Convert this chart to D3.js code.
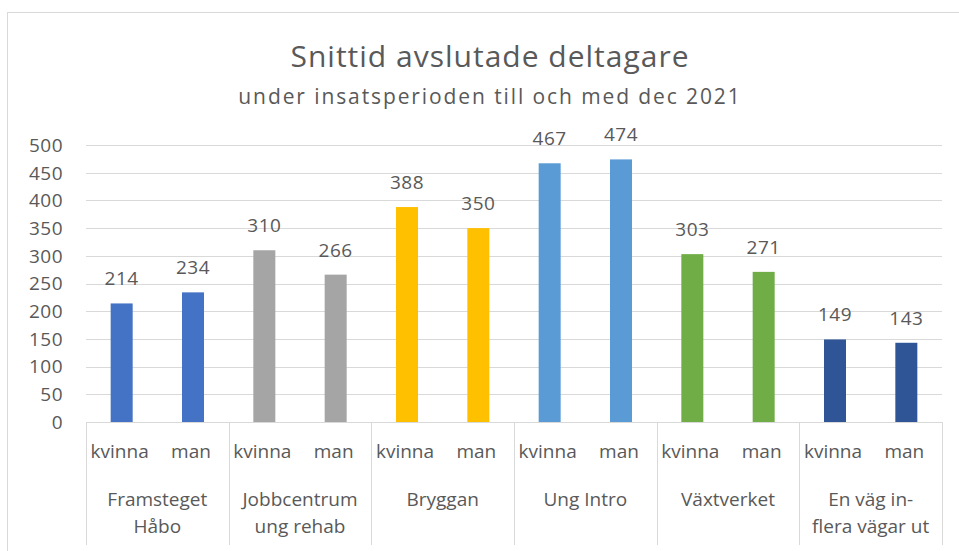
<!DOCTYPE html>
<html lang="sv">
<head>
    <meta charset="UTF-8">
    <title>Snittid avslutade deltagare</title>
    <script src="https://d3js.org/d3.v7.min.js"></script>
    <style>
        body {
            margin: 0;
            background: #fff;
            overflow: hidden;
        }
        svg {
            display: block;
            font-family: "Open Sans", "Noto Sans", sans-serif;
        }
        .grid line {
            stroke: #d9d9d9;
            stroke-width: 1px;
        }
        .tick-label, .cat-label, .bar-label {
            fill: #595959;
        }
    </style>
</head>
<body>
    <svg width="959" height="551"></svg>

    <script>
        // data
        const groups = ["Framsteget Håbo", "Jobbcentrum ung rehab", "Bryggan", "Ung Intro", "Växtverket", "En väg in-flera vägar ut"];
        const groupLines = [["Framsteget", "Håbo"], ["Jobbcentrum", "ung rehab"], ["Bryggan"], ["Ung Intro"], ["Växtverket"], ["En väg in-", "flera vägar ut"]];
        const genders = ["kvinna", "man"];
        const kvinna = [214, 310, 388, 467, 303, 149];
        const man = [234, 266, 350, 474, 271, 143];
        const groupColors = ["#4472c4", "#a5a5a5", "#ffc000", "#5b9bd5", "#70ad47", "#2f5597"];
        const yTicks = [0, 50, 100, 150, 200, 250, 300, 350, 400, 450, 500];

        const svg = d3.select("svg");

        // chart border (Excel chart area)
        svg.append("rect")
            .attr("x", 7.5).attr("y", 12.5)
            .attr("width", 1000).attr("height", 600)
            .attr("fill", "none")
            .attr("stroke", "#d9d9d9");

        // titles
        svg.append("text")
            .attr("x", 490).attr("y", 67)
            .attr("text-anchor", "middle")
            .attr("font-size", 30)
            .attr("letter-spacing", 1)
            .attr("fill", "#595959")
            .text("Snittid avslutade deltagare");

        svg.append("text")
            .attr("x", 490).attr("y", 104)
            .attr("text-anchor", "middle")
            .attr("font-size", 21)
            .attr("letter-spacing", 1.9)
            .attr("fill", "#595959")
            .text("under insatsperioden till och med dec 2021");

        const plotL = 86, plotR = 942, plotT = 145, plotB = 422;

        const y = d3.scaleLinear().domain([0, 500]).range([plotB, plotT]);
        const x0 = d3.scaleBand().domain(groups).range([plotL, plotR]);
        const x1 = d3.scaleBand().domain(genders).range([0, x0.bandwidth()]);
        const barW = 22;

        // gridlines
        svg.append("g").attr("class", "grid")
            .selectAll("line")
            .data(yTicks)
            .join("line")
            .attr("x1", plotL).attr("x2", plotR)
            .attr("y1", d => Math.round(y(d)) + 0.5)
            .attr("y2", d => Math.round(y(d)) + 0.5);

        // y tick labels
        svg.append("g")
            .selectAll("text")
            .data(yTicks)
            .join("text")
            .attr("class", "tick-label")
            .attr("x", 63)
            .attr("y", d => y(d))
            .attr("dy", "0.36em")
            .attr("text-anchor", "end")
            .attr("font-size", 19)
            .attr("letter-spacing", 0.5)
            .text(d => d);

        const rows = [];
        groups.forEach((g, i) => {
            rows.push({ group: g, gender: "kvinna", value: kvinna[i], color: groupColors[i] });
            rows.push({ group: g, gender: "man", value: man[i], color: groupColors[i] });
        });

        const cx = d => x0(d.group) + x1(d.gender) + x1.bandwidth() / 2;

        // bars
        svg.append("g")
            .selectAll("rect")
            .data(rows)
            .join("rect")
            .attr("x", d => cx(d) - barW / 2)
            .attr("width", barW)
            .attr("y", d => y(d.value))
            .attr("height", d => y(0) - y(d.value))
            .attr("fill", d => d.color);

        // value labels
        svg.append("g")
            .selectAll("text")
            .data(rows)
            .join("text")
            .attr("class", "bar-label")
            .attr("x", cx)
            .attr("y", d => y(d.value) - 18)
            .attr("text-anchor", "middle")
            .attr("font-size", 19)
            .attr("letter-spacing", 0.5)
            .text(d => d.value);

        // category axis: baseline + separators
        const axis = svg.append("g").attr("stroke", "#d9d9d9");
        axis.append("line")
            .attr("x1", plotL).attr("x2", plotR)
            .attr("y1", plotB + 0.5).attr("y2", plotB + 0.5);
        axis.selectAll(".sep")
            .data(groups.map(g => x0(g)).concat([plotR]))
            .join("line")
            .attr("class", "sep")
            .attr("x1", d => Math.round(d) + 0.5).attr("x2", d => Math.round(d) + 0.5)
            .attr("y1", plotB).attr("y2", 545);

        // gender labels
        svg.append("g")
            .selectAll("text")
            .data(rows)
            .join("text")
            .attr("class", "cat-label")
            .attr("x", d => cx(d) - 2)
            .attr("y", 458)
            .attr("text-anchor", "middle")
            .attr("font-size", 19)
            .text(d => d.gender);

        // group labels
        const gl = svg.append("g")
            .selectAll("text")
            .data(groups)
            .join("text")
            .attr("class", "cat-label")
            .attr("x", d => x0(d) + x0.bandwidth() / 2)
            .attr("y", 506)
            .attr("text-anchor", "middle")
            .attr("font-size", 19);
        gl.selectAll("tspan")
            .data((d, i) => groupLines[i])
            .join("tspan")
            .attr("x", function () { return d3.select(this.parentNode).attr("x"); })
            .attr("dy", (d, i) => i === 0 ? 0 : 27)
            .text(d => d);
    </script>
</body>
</html>
